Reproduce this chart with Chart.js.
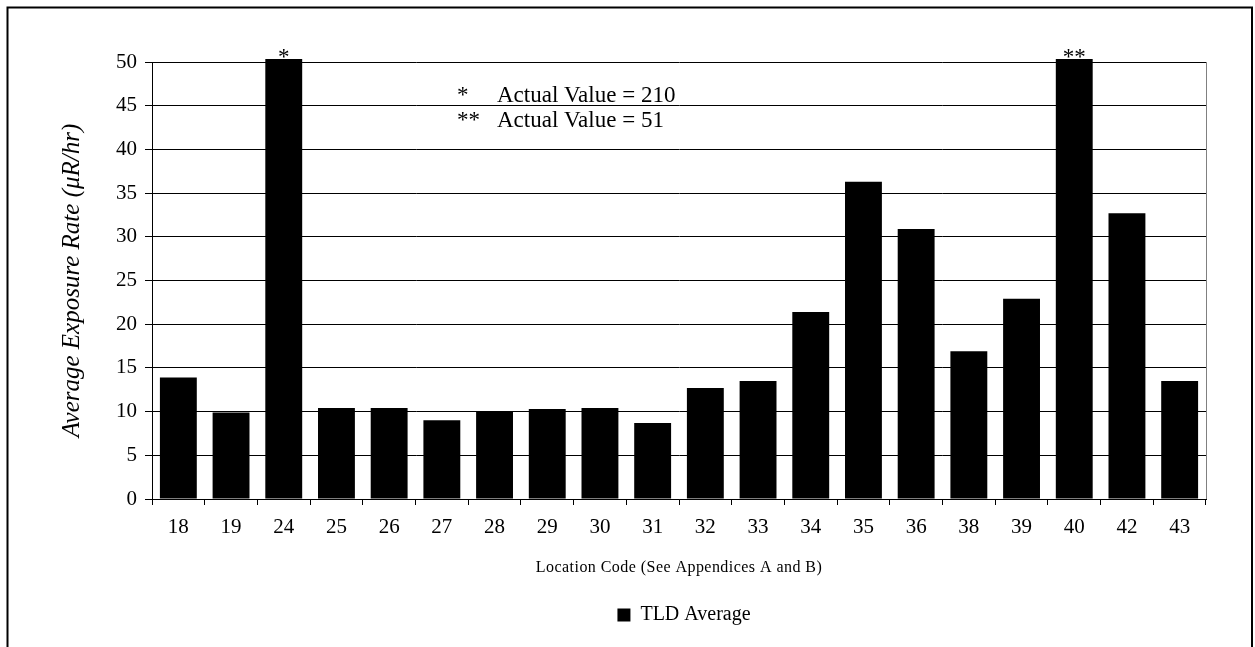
<!DOCTYPE html>
<html><head><meta charset="utf-8">
<script src="https://cdn.jsdelivr.net/npm/chart.js@4"></script>
<style>html,body{margin:0;padding:0;background:#fff;overflow:hidden}</style>
</head><body>
<canvas id="c" width="1255" height="647" style="display:block;width:1255px;height:647px"></canvas>
<script>
// ---- data ----
const categories = ['18','19','24','25','26','27','28','29','30','31','32','33','34','35','36','38','39','40','42','43'];
const tldAverage = [13.9, 9.9, 210, 10.4, 10.4, 9.0, 10.0, 10.3, 10.4, 8.7, 12.7, 13.5, 21.4, 36.3, 30.9, 16.9, 22.9, 51, 32.7, 13.5];
const yTickValues = [0, 5, 10, 15, 20, 25, 30, 35, 40, 45, 50];
const footnoteIndex = [2, 17];
const footnoteMarks = ['*', '**'];
const footnoteTexts = ['Actual Value = 210', 'Actual Value = 51'];
const seriesName = 'TLD Average';
const xTitle = 'Location Code (See Appendices A and B)';
const yTitle = 'Average Exposure Rate (\u03BCR/hr)';

const SERIF = '"Liberation Serif", "Times New Roman", serif';

const framePlugin = {
  id: 'frame',
  beforeDraw(chart) {
    const ctx = chart.ctx;
    ctx.save(); ctx.fillStyle = '#fff'; ctx.fillRect(0, 0, chart.width, chart.height); ctx.restore();
  },
  afterLayout(chart) {
    const lg = chart.legend, ca = chart.chartArea;
    if (!lg) return;
    const dx = (ca.left + ca.right) / 2 + 5 - (lg.left + lg.right) / 2;
    lg.left += dx; lg.right += dx;
    lg.top += 16; lg.bottom += 16;
  },
  afterDraw(chart) {
    const ctx = chart.ctx, ca = chart.chartArea, xs = chart.scales.x;
    ctx.save();
    // outer frame
    ctx.strokeStyle = '#000'; ctx.lineWidth = 2;
    ctx.strokeRect(7.5, 7.5, 1244.5, 700);
    // right plot border
    ctx.strokeStyle = '#808080'; ctx.lineWidth = 1;
    ctx.beginPath(); ctx.moveTo(Math.round(ca.right) + 0.5, ca.top); ctx.lineTo(Math.round(ca.right) + 0.5, ca.bottom); ctx.stroke();
    // footnote marks above clipped bars
    ctx.fillStyle = '#000';
    ctx.font = '23px ' + SERIF;
    ctx.textAlign = 'center'; ctx.textBaseline = 'alphabetic';
    footnoteIndex.forEach((idx, k) => {
      ctx.fillText(footnoteMarks[k], xs.getPixelForValue(idx), ca.top + 2);
    });
    // footnote legend text
    ctx.textAlign = 'left';
    footnoteMarks.forEach((m, k) => {
      const y = ca.top + 40 + k * 25;
      ctx.fillText(m, ca.left + 305, y);
      ctx.fillText(footnoteTexts[k], ca.left + 345, y);
    });
    ctx.restore();
  }
};

new Chart(document.getElementById('c'), {
  type: 'bar',
  data: {
    labels: categories,
    datasets: [{
      label: seriesName,
      data: tldAverage,
      backgroundColor: '#000',
      borderWidth: 0,
      barPercentage: 0.70,
      categoryPercentage: 1.0,
      clip: { left: false, top: 3, right: false, bottom: false }
    }]
  },
  options: {
    responsive: false,
    animation: false,
    devicePixelRatio: 1,
    layout: { padding: { left: 40, right: 49, top: 62, bottom: 28 } },
    plugins: {
      tooltip: { enabled: false },
      legend: {
        position: 'bottom',
        labels: {
          font: { family: SERIF, size: 20 },
          color: '#000',
          boxWidth: 13, boxHeight: 13,
          padding: 10
        }
      }
    },
    scales: {
      x: {
        grid: { offset: true, drawOnChartArea: false, color: '#000', tickLength: 6, lineWidth: 1 },
        border: { color: '#000', width: 1 },
        ticks: { font: { family: SERIF, size: 21 }, color: '#000', padding: 10, maxRotation: 0, autoSkip: false },
        title: { display: true, text: xTitle, font: { family: SERIF, size: 16 }, color: '#000', padding: { top: 17, bottom: 2 } },
        afterFit(s) { s.height = 80; },
        afterUpdate(s) {
          if (!s._lsPatched) {
            const orig = s.drawTitle;
            s.drawTitle = function (...a) { const c = this.ctx; c.save(); c.letterSpacing = '0.45px'; orig.apply(this, a); c.restore(); };
            s._lsPatched = true;
          }
        }
      },
      y: {
        min: 0, max: 50,
        afterBuildTicks(s) { s.ticks = yTickValues.map(v => ({ value: v })); },
        grid: { color: '#000', tickLength: 7, lineWidth: 1 },
        border: { color: '#000', width: 1 },
        ticks: { font: { family: SERIF, size: 21 }, color: '#000', padding: 8 },
        title: { display: true, text: yTitle, font: { family: SERIF, size: 25, style: 'italic' }, color: '#000', padding: { top: 17, bottom: 0 } },
        afterFit(s) { s.width = 112; }
      }
    }
  },
  plugins: [framePlugin]
});
</script>
</body></html>
